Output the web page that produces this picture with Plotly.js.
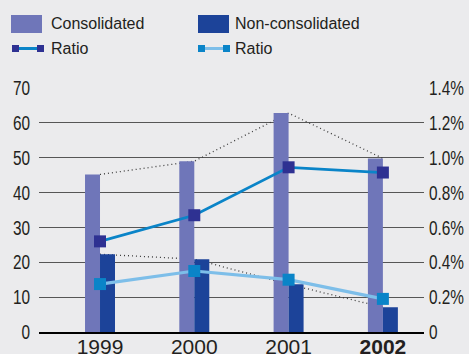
<!DOCTYPE html>
<html>
<head>
<meta charset="utf-8">
<script src="https://cdn.plot.ly/plotly-3.0.1.min.js"></script>
<style>
  html, body { margin: 0; padding: 0; background: #ebebed; }
  #chart { width: 469px; height: 354px; }
</style>
</head>
<body>
<div id="chart"></div>
<script>
// Years and their positions on the category axis
const years = ['1999', '2000', '2001', '2002'];
const yearLabels = ['1999', '2000', '2001', '<b>2002</b>'];
const yearPos = [0, 1, 2, 3];

// Bar series (left axis)
const consolidated = [45.2, 49.0, 62.8, 49.8];
const nonConsolidated = [22.3, 20.9, 13.7, 7.1];

// Ratio series (right axis, percent)
const ratioConsolidated = [0.52, 0.67, 0.945, 0.915];
const ratioNonConsolidated = [0.275, 0.35, 0.30, 0.19];

// Axis ticks
const leftTicks = [0, 10, 20, 30, 40, 50, 60, 70];
const rightTicks = [0, 0.2, 0.4, 0.6, 0.8, 1.0, 1.2, 1.4];
const rightTickText = ['0', '0.2%', '0.4%', '0.6%', '0.8%', '1.0%', '1.2%', '1.4%'];

// Colours
const C_CONS = '#6f76b9';
const C_NON = '#1c4399';
const C_NAVY = '#2e3192';
const C_BLUE = '#0a84c8';
const C_LIGHT = '#7dbee9';
const C_TEXT = '#231f20';
const C_BG = '#ebebed';

const W = 469, H = 354;
const M = { l: 39, r: 45, t: 88, b: 22 };
const PW = W - M.l - M.r, PH = H - M.t - M.b;
const px = v => (v - M.l) / PW;      // page x -> paper x
const py = v => (H - M.b - v) / PH;  // page y -> paper y

const BW = 0.159; // bar width in category units

const sans = "'Liberation Sans', Arial, Helvetica, sans-serif";

const traces = [
  // dotted guides through bar tops (drawn under the bars)
  { type: 'scatter', mode: 'lines', x: yearPos, y: consolidated, xaxis: 'x', yaxis: 'y',
    line: { color: '#3a3a3a', width: 1.3, dash: '1px,3px' }, hoverinfo: 'skip' },
  { type: 'scatter', mode: 'lines', x: yearPos, y: nonConsolidated, xaxis: 'x', yaxis: 'y',
    line: { color: '#3a3a3a', width: 1.3, dash: '1px,3px' }, hoverinfo: 'skip' },
  // bars
  { type: 'bar', name: 'Consolidated', x: yearPos, y: consolidated, xaxis: 'x', yaxis: 'y2',
    width: BW, offset: -BW, marker: { color: C_CONS, line: { width: 0 } } },
  { type: 'bar', name: 'Non-consolidated', x: yearPos, y: nonConsolidated, xaxis: 'x', yaxis: 'y2',
    width: BW, offset: 0, marker: { color: C_NON, line: { width: 0 } } },
  // ratio lines
  { type: 'scatter', mode: 'lines+markers', name: 'Ratio', x: yearPos, y: ratioConsolidated,
    xaxis: 'x', yaxis: 'y3',
    line: { color: C_BLUE, width: 2.8 },
    marker: { symbol: 'square', size: 12, color: C_NAVY, line: { width: 0 } } },
  { type: 'scatter', mode: 'lines+markers', name: 'Ratio', x: yearPos, y: ratioNonConsolidated,
    xaxis: 'x', yaxis: 'y3',
    line: { color: C_LIGHT, width: 3.2 },
    marker: { symbol: 'square', size: 12, color: C_BLUE, line: { width: 0 } } }
];

// Hand-built legend
const shapes = [
  { type: 'rect', xref: 'paper', yref: 'paper', x0: px(11), x1: px(42), y0: py(15), y1: py(33),
    fillcolor: C_CONS, line: { width: 0 } },
  { type: 'rect', xref: 'paper', yref: 'paper', x0: px(198), x1: px(229), y0: py(15), y1: py(33),
    fillcolor: C_NON, line: { width: 0 } },
  { type: 'line', xref: 'paper', yref: 'paper', x0: px(15), x1: px(40), y0: py(48.5), y1: py(48.5),
    line: { color: C_BLUE, width: 3 } },
  { type: 'rect', xref: 'paper', yref: 'paper', x0: px(12), x1: px(19), y0: py(45), y1: py(52),
    fillcolor: C_NAVY, line: { width: 0 } },
  { type: 'rect', xref: 'paper', yref: 'paper', x0: px(37), x1: px(44), y0: py(45), y1: py(52),
    fillcolor: C_NAVY, line: { width: 0 } },
  { type: 'line', xref: 'paper', yref: 'paper', x0: px(202), x1: px(227), y0: py(48.5), y1: py(48.5),
    line: { color: C_LIGHT, width: 3 } },
  { type: 'rect', xref: 'paper', yref: 'paper', x0: px(198), x1: px(205), y0: py(45), y1: py(52),
    fillcolor: C_BLUE, line: { width: 0 } },
  { type: 'rect', xref: 'paper', yref: 'paper', x0: px(223), x1: px(230), y0: py(45), y1: py(52),
    fillcolor: C_BLUE, line: { width: 0 } }
];

const legendText = [
  { t: 'Consolidated', x: 49, y: 23 },
  { t: 'Non-consolidated', x: 233, y: 23 },
  { t: 'Ratio', x: 49, y: 48 },
  { t: 'Ratio', x: 233, y: 48 }
];
const annotations = legendText.map(a => ({
  text: a.t, xref: 'paper', yref: 'paper', x: px(a.x), y: py(a.y),
  xanchor: 'left', yanchor: 'middle', showarrow: false,
  font: { family: sans, size: 16, color: C_TEXT }
}));

const layout = {
  width: W, height: H,
  margin: M,
  paper_bgcolor: C_BG, plot_bgcolor: C_BG,
  showlegend: false,
  barmode: 'overlay',
  xaxis: {
    range: [-0.647, 3.436], tickmode: 'array', tickvals: yearPos, ticktext: yearLabels,
    showgrid: false, zeroline: false, showline: true, linecolor: '#000', linewidth: 2,
    ticks: '', tickfont: { family: sans, size: 21, color: C_TEXT }, ticklabelstandoff: -5,
    fixedrange: true
  },
  yaxis: {
    range: [0, 70], tickmode: 'array', tickvals: leftTicks,
    showgrid: true, gridcolor: '#565656', gridwidth: 1, zeroline: false, showline: false,
    ticks: '', tickfont: { family: sans, size: 20.5, color: C_TEXT }, ticklabelstandoff: 8,
    fixedrange: true
  },
  yaxis2: { overlaying: 'y', range: [0, 70], visible: false, fixedrange: true },
  yaxis3: {
    overlaying: 'y', side: 'right', range: [0, 1.4], tickmode: 'array',
    tickvals: rightTicks, ticktext: rightTickText,
    showgrid: false, zeroline: false, showline: false, ticks: '',
    tickfont: { family: sans, size: 20.5, color: C_TEXT }, ticklabelstandoff: 4,
    fixedrange: true
  },
  shapes: shapes,
  annotations: annotations
};

// Condense the value-axis labels horizontally, keeping each one pinned at its
// edge nearest the plot.
function condenseLabels(gd, selector, factor) {
  gd.querySelectorAll(selector).forEach(t => {
    const bb = t.getBBox();
    const anchor = t.getAttribute('text-anchor');
    const ax = anchor === 'end' ? bb.x + bb.width : (anchor === 'start' ? bb.x : bb.x + bb.width / 2);
    const prev = t.getAttribute('transform') || '';
    t.setAttribute('transform',
      prev + ' translate(' + ax + ',0) scale(' + factor + ',1) translate(' + (-ax) + ',0)');
  });
}

const gd = document.getElementById('chart');
Plotly.newPlot(gd, traces, layout, { staticPlot: true, displayModeBar: false }).then(() => {
  condenseLabels(gd, '.ytick text, .y3tick text', 0.75);
});
</script>
</body>
</html>
